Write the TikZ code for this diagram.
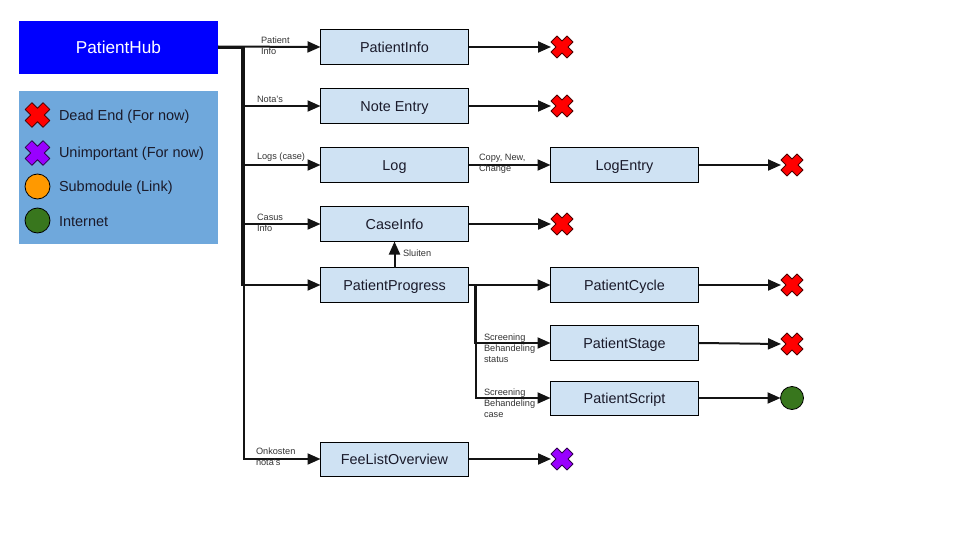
\documentclass[tikz,border=0pt]{standalone}
\usepackage{fontspec}
\setmainfont{Liberation Sans}
\usetikzlibrary{arrows.meta}
\definecolor{boxfill}{HTML}{CFE2F3}
\definecolor{legendfill}{HTML}{6FA8DC}
\definecolor{hubfill}{HTML}{0000FF}
\definecolor{deadred}{HTML}{FF0000}
\definecolor{unimp}{HTML}{9900FF}
\definecolor{submod}{HTML}{FF9900}
\definecolor{netgreen}{HTML}{38761D}
\definecolor{inktext}{HTML}{1A1A2A}
\tikzset{
  every node/.style={inner sep=0pt,outer sep=0pt},
  hubbox/.style={fill=hubfill,text=white,minimum width=199pt,minimum height=53pt,font=\fontsize{17.2}{20}\selectfont},
  legendbox/.style={fill=legendfill,minimum width=199pt,minimum height=153pt},
  modbox/.style={draw=black,line width=1pt,fill=boxfill,text=inktext,minimum width=148pt,minimum height=35pt,text height=12pt,text depth=1pt,font=\fontsize{14.4}{17}\selectfont},
  legendtext/.style={anchor=west,text=inktext,text height=12pt,text depth=1pt,font=\fontsize{14.5}{17}\selectfont},
  smalllabel/.style={anchor=west,align=left,text=black!80,font=\fontsize{9.2}{11}\selectfont},
  marknode/.style={minimum size=22pt},
  bigmark/.style={minimum size=25pt},
  dot/.style={circle,draw=black,line width=.8pt,minimum size=#1},
  conn/.style={draw=black!92,line width=2pt,-{Triangle[length=13pt,width=11pt]}},
  pics/xmark/.style n args={2}{code={
    \draw[fill=#1,draw=black!70!#1,line width=.8pt,line join=round,scale=#2]
      (0,-6)--(5,-11)--(11,-5)--(6,0)--(11,5)--(5,11)--(0,6)--(-5,11)--(-11,5)--(-6,0)--(-11,-5)--(-5,-11)--cycle;
  }}
}
\begin{document}
\begin{tikzpicture}[x=1pt,y=-1pt]
\useasboundingbox (0,0) rectangle (960,540);
% main boxes
\node[hubbox] (hub) at (118.5,47.5) {PatientHub};
\node[legendbox] (legend) at (118.5,167.5) {};
\node[modbox] (info) at (394.5,47) {PatientInfo};
\node[modbox] (note) at (394.5,106) {Note Entry};
\node[modbox] (log) at (394.5,165) {Log};
\node[modbox] (case) at (394.5,224) {CaseInfo};
\node[modbox] (prog) at (394.5,285) {PatientProgress};
\node[modbox,minimum height=34pt] (fee) at (394.5,459) {FeeListOverview};
\node[modbox] (entry) at (624.5,165) {LogEntry};
\node[modbox] (cycle) at (624.5,285) {PatientCycle};
\node[modbox] (stage) at (624.5,343) {PatientStage};
\node[modbox,minimum height=34pt] (script) at (624.5,398) {PatientScript};
% legend
\node[bigmark] (lg1) at (37.5,115) {};
\pic at (lg1) {xmark={deadred}{1.12}};
\node[legendtext] (lt1) at (59,115) {Dead End (For now)};
\node[bigmark] (lg2) at (37.5,153) {};
\pic at (lg2) {xmark={unimp}{1.12}};
\node[legendtext] (lt2) at (59,152.5) {Unimportant (For now)};
\node[dot=25pt,fill=submod] (lg3) at (37.5,186.5) {};
\node[legendtext] (lt3) at (59,186) {Submodule (Link)};
\node[dot=25pt,fill=netgreen] (lg4) at (37.5,220.5) {};
\node[legendtext] (lt4) at (59,220.5) {Internet};
% end marks
\node[marknode] (m1) at (562,47) {};
\node[marknode] (m2) at (562,106) {};
\node[marknode] (m3) at (792,165) {};
\node[marknode] (m4) at (562,224) {};
\node[marknode] (m5) at (792,285) {};
\node[marknode] (m6) at (792,344) {};
\node[marknode] (m8) at (562,459) {};
\node[dot=23pt,fill=netgreen] (m7) at (792,398) {};
\foreach \m in {m1,m2,m3,m4,m5,m6} {\pic at (\m) {xmark={deadred}{1}};}
\pic at (m8) {xmark={unimp}{1}};
% hub connectors
\draw[conn] ([yshift=1pt]hub.east) -- (info.west);
\draw[conn] ([yshift=-1pt]hub.east) -- ++(25,0) |- (note.west);
\draw[conn] ([yshift=-1pt]hub.east) -- ++(26,0) |- (log.west);
\draw[conn] ([yshift=-.5pt]hub.east) -- ++(24.5,0) |- (case.west);
\draw[conn] ([yshift=-.5pt]hub.east) -- ++(24,0) |- (prog.west);
\draw[conn] ([yshift=-.5pt]hub.east) -- ++(26,0) |- (fee.west);
% other connectors
\draw[conn] (info.east) -- (m1.west);
\draw[conn] (note.east) -- (m2.west);
\draw[conn] (log.east) -- (entry.west);
\draw[conn] (case.east) -- (m4.west);
\draw[conn] (entry.east) -- (m3.west);
\draw[conn] (prog.north) -- (case.south);
\draw[conn] (prog.east) -- (cycle.west);
\draw[conn] (prog.east) -- ++(6,0) |- (stage.west);
\draw[conn] (prog.east) -- ++(7,0) |- (script.west);
\draw[conn] (cycle.east) -- (m5.west);
\draw[conn] (stage.east) -- (m6.west);
\draw[conn] (script.east) -- (m7.west);
\draw[conn] (fee.east) -- (m8.west);
% labels
\node[smalllabel] (l1) at (261,45.5) {Patient\\Info};
\node[smalllabel] (l2) at (257,99) {Nota's};
\node[smalllabel] (l3) at (257,157) {Logs (case)};
\node[smalllabel] (l4) at (257,222.5) {Casus\\Info};
\node[smalllabel] (l5) at (256,456.5) {Onkosten\\nota's};
\node[smalllabel] (l6) at (479,163.5) {Copy, New,\\Change};
\node[smalllabel] (l7) at (403,253) {Sluiten};
\node[smalllabel] (l8) at (484,348) {Screening\\Behandeling\\status};
\node[smalllabel] (l9) at (484,403) {Screening\\Behandeling\\case};
\end{tikzpicture}
\end{document}
